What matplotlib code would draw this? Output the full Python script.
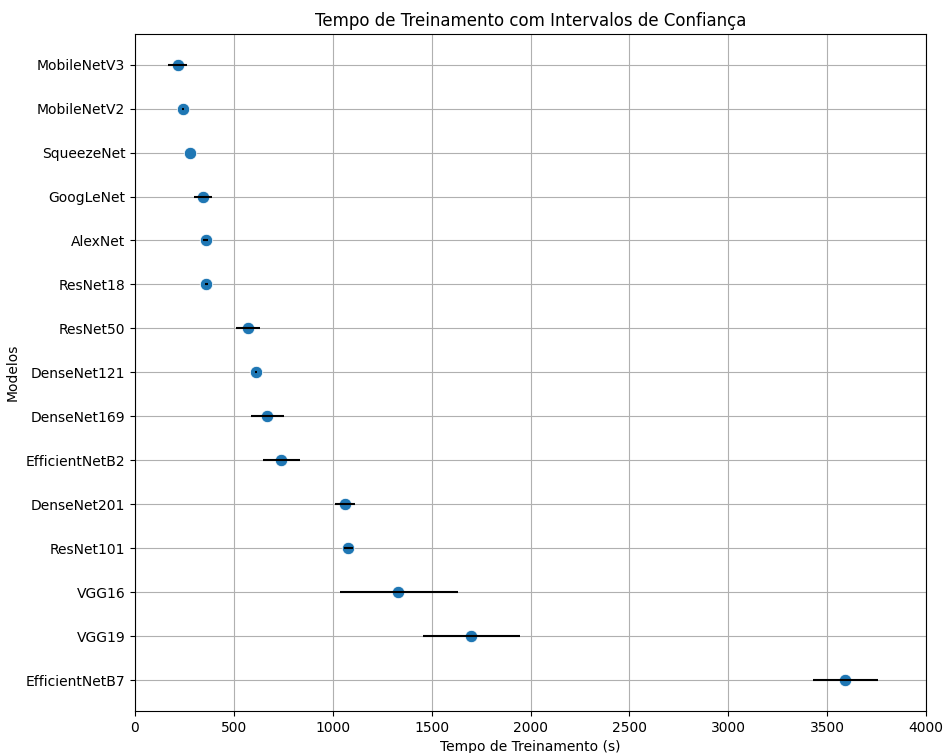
# Tempo de treinamento por modelo, com intervalos de confiança
import numpy as np
import matplotlib
matplotlib.use("Agg")
import matplotlib.pyplot as plt

modelos = ["MobileNetV3", "MobileNetV2", "SqueezeNet", "GoogLeNet", "AlexNet",
           "ResNet18", "ResNet50", "DenseNet121", "DenseNet169", "EfficientNetB2",
           "DenseNet201", "ResNet101", "VGG16", "VGG19", "EfficientNetB7"]
# média do tempo (s)
media = [216, 241, 278, 343, 358, 360, 570, 611, 668, 739, 1060, 1077, 1332, 1700, 3592]
# limites do intervalo de confiança
ic_inf = [169, 236, 278, 300, 346, 353, 511, 607, 586, 645, 1009, 1055, 1035, 1457, 3427]
ic_sup = [265, 246, 278, 388, 370, 367, 633, 615, 751, 834, 1112, 1102, 1631, 1946, 3759]

media = np.array(media)
erro = [media - np.array(ic_inf), np.array(ic_sup) - media]
y = np.arange(len(modelos))

fig, ax = plt.subplots(figsize=(9.44, 7.53), dpi=100)
fig.subplots_adjust(left=0.143, right=0.981, top=0.955, bottom=0.056)

ax.scatter(media, y, s=80, color="#1f77b4", edgecolor="white", linewidth=0.6, zorder=3)
ax.errorbar(media, y, xerr=erro, fmt="none", ecolor="black", elinewidth=1.5, zorder=4)

ax.set_yticks(y)
ax.set_yticklabels(modelos)
ax.invert_yaxis()
ax.set_xlim(0, 4000)
ax.grid(True)
ax.set_xlabel("Tempo de Treinamento (s)")
ax.set_ylabel("Modelos")
ax.set_title("Tempo de Treinamento com Intervalos de Confiança")

fig.savefig("out.png")
